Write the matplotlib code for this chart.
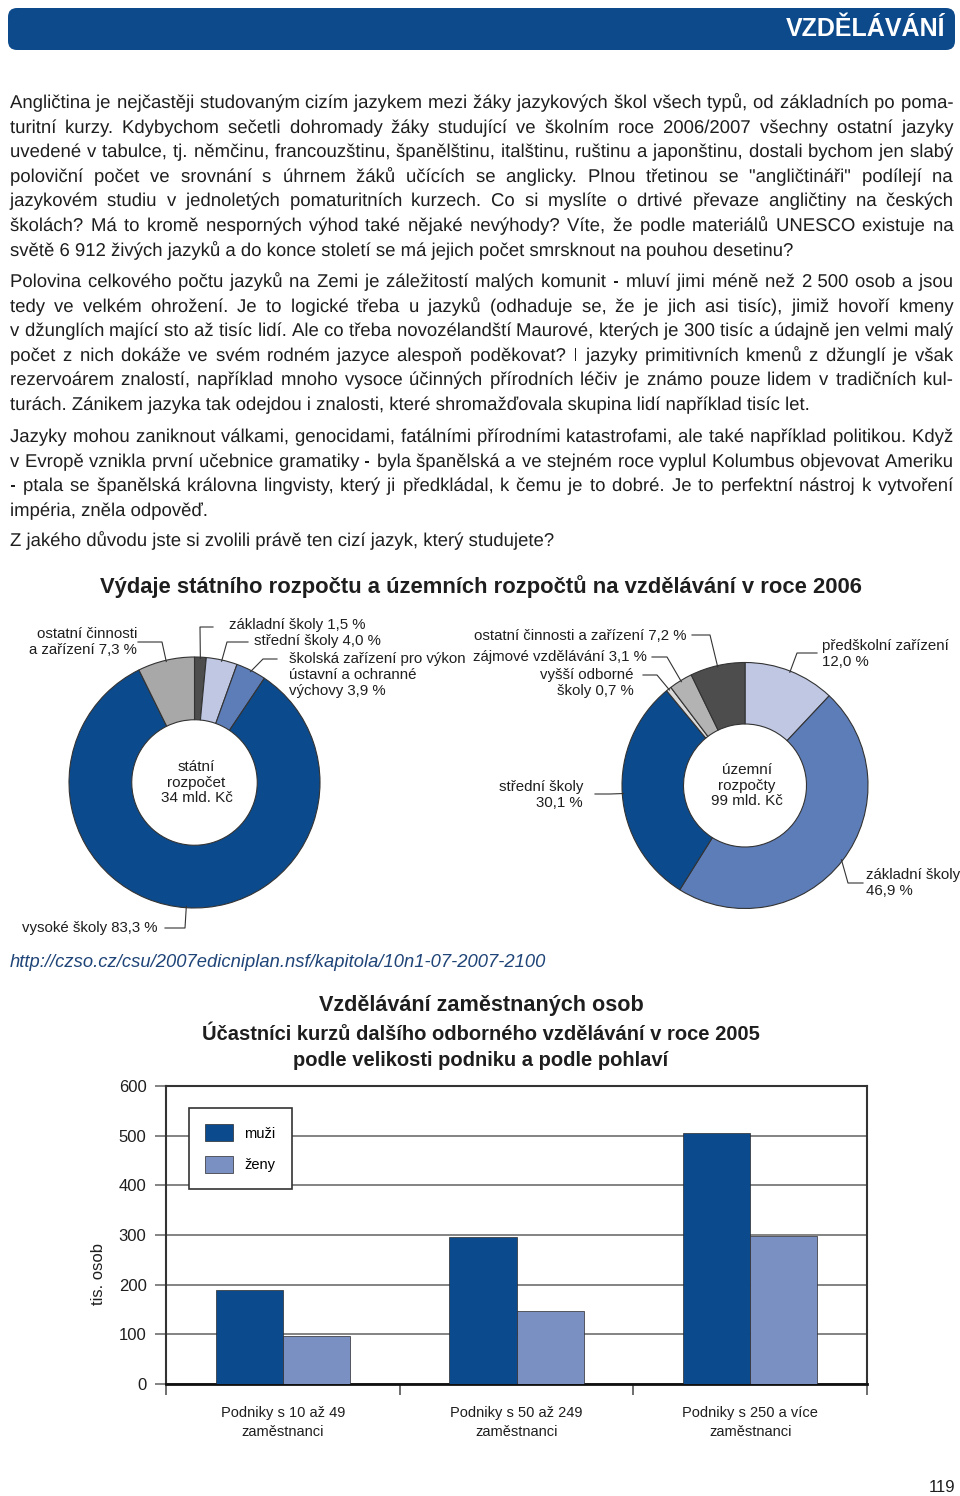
import numpy as np
import matplotlib
matplotlib.use('Agg')
import matplotlib.pyplot as plt
import matplotlib.patheffects as pe
from matplotlib.patches import FancyBboxPatch

plt.rcParams['font.family'] = ['Liberation Sans', 'DejaVu Sans']

# ---- data ----
state_labels = ['základní školy 1,5 %', 'střední školy 4,0 %',
                'školská zařízení pro výkon\nústavní a ochranné\nvýchovy 3,9 %',
                'vysoké školy 83,3 %', 'ostatní činnosti\na zařízení 7,3 %']
state_share = [1.5, 4.0, 3.9, 83.3, 7.3]

local_labels = ['předškolní zařízení\n12,0 %', 'základní školy\n46,9 %',
                'střední školy\n30,1 %', 'vyšší odborné\nškoly 0,7 %',
                'zájmové vzdělávání 3,1 %', 'ostatní činnosti a zařízení 7,2 %']
local_share = [12.0, 46.9, 30.1, 0.7, 3.1, 7.2]

firm_sizes = ['Podniky s 10 až 49\nzaměstnanci', 'Podniky s 50 až 249\nzaměstnanci',
              'Podniky s 250 a více\nzaměstnanci']
men = [190, 296, 505]
women = [96, 147, 298]

par1 = ['Angličtina je nejčastěji studovaným cizím jazykem mezi žáky jazykových škol všech typů, od základních po poma-',
        'turitní kurzy. Kdybychom sečetli dohromady žáky studující ve školním roce 2006/2007 všechny ostatní jazyky',
        'uvedené v tabulce, tj. němčinu, francouzštinu, španělštinu, italštinu, ruštinu a japonštinu, dostali bychom jen slabý',
        'poloviční počet ve srovnání s úhrnem žáků učících se anglicky. Plnou třetinou se "angličtináři" podílejí na',
        'jazykovém studiu v jednoletých pomaturitních kurzech. Co si myslíte o drtivé převaze angličtiny na českých',
        'školách? Má to kromě nesporných výhod také nějaké nevýhody? Víte, že podle materiálů UNESCO existuje na',
        'světě 6 912 živých jazyků a do konce století se má jejich počet smrsknout na pouhou desetinu?']
par2 = ['Polovina celkového počtu jazyků na Zemi je záležitostí malých komunit - mluví jimi méně než 2\u00a0500 osob a jsou',
        'tedy ve velkém ohrožení. Je to logické třeba u jazyků (odhaduje se, že je jich asi tisíc), jimiž hovoří kmeny',
        'v džunglích mající sto až tisíc lidí. Ale co třeba novozélandští Maurové, kterých je 300 tisíc a údajně jen velmi malý',
        'počet z nich dokáže ve svém rodném jazyce alespoň poděkovat? I jazyky primitivních kmenů z džunglí je však',
        'rezervoárem znalostí, například mnoho vysoce účinných přírodních léčiv je známo pouze lidem v tradičních kul-',
        'turách. Zánikem jazyka tak odejdou i znalosti, které shromažďovala skupina lidí například tisíc let.']
par3 = ['Jazyky mohou zaniknout válkami, genocidami, fatálními přírodními katastrofami, ale také například politikou. Když',
        'v Evropě vznikla první učebnice gramatiky - byla španělská a ve stejném roce vyplul Kolumbus objevovat Ameriku',
        '- ptala se španělská královna lingvisty, který ji předkládal, k čemu je to dobré. Je to perfektní nástroj k vytvoření',
        'impéria, zněla odpověď.']
par4 = ['Z jakého důvodu jste si zvolili právě ten cizí jazyk, který studujete?']

DARK = '#0b4a8c'
MID = '#5d7db9'
LIGHT = '#bfc7e3'
GRAY = '#a8a8a8'
DGRAY = '#4d4d4d'
TXT = '#1e1e1e'

W, H = 960, 1496
fig = plt.figure(figsize=(W / 100, H / 100), dpi=100)
ax0 = fig.add_axes([0, 0, 1, 1])


def Y(y):
    return H - y


# header bar
ax0.add_patch(FancyBboxPatch((8, Y(50)), 947, 42, boxstyle='round,pad=0,rounding_size=9',
                             fc='#0d4a8b', ec='none'))
ax0.text(945, Y(29), 'VZDĚLÁVÁNÍ', ha='right', va='center', color='white', fontsize=18,
         fontweight='bold', family=['Liberation Sans Narrow', 'DejaVu Sans Condensed', 'Liberation Sans'])

# body text, justified word by word; drawn through a path effect so that every
# word sits on exactly the same baseline
renderer = fig.canvas.get_renderer()
body_kw = dict(fontsize=13.35, color=TXT, va='baseline', ha='left',
               path_effects=[pe.Normal()])
LEFT, RIGHT = 10, 953


def word_w(s):
    t = ax0.text(0, 0, s, **body_kw)
    w = t.get_window_extent(renderer).width
    t.remove()
    return w


def para(lines, y0, step=24.6):
    sp = word_w('a a') - word_w('aa')
    for i, line in enumerate(lines):
        yb = Y(round(y0 + i * step))
        if i == len(lines) - 1:
            ax0.text(LEFT, yb, line, **body_kw)
            continue
        words = line.split(' ')
        ws = [word_w(w) for w in words]
        gap = max((RIGHT - LEFT - sum(ws)) / (len(words) - 1), 0.45 * sp)
        xx = LEFT
        for w, wd in zip(words, ws):
            ax0.text(round(xx), yb, w, **body_kw)
            xx += wd + gap


para(par1, 108)
para(par2, 287)
para(par3, 442)
para(par4, 546)

ax0.text(481, Y(587), 'Výdaje státního rozpočtu a územních rozpočtů na vzdělávání v roce 2006',
         ha='center', va='center', fontsize=15.8, fontweight='bold', color=TXT)


def donut(values, labels, colors, cx, cy, r, layout, center_text):
    wedges, _ = ax0.pie(values, colors=colors, startangle=90, counterclock=False,
                        center=(cx, Y(cy)), radius=r,
                        wedgeprops=dict(width=r * 0.5, edgecolor='#333333', linewidth=0.8))
    for w, lab, (ex, ey, lx, tx, ty, ha) in zip(wedges, labels, layout):
        ang = np.deg2rad((w.theta1 + w.theta2) / 2)
        px, py = cx + 0.99 * r * np.cos(ang), Y(cy) + 0.99 * r * np.sin(ang)
        ax0.plot([px, ex, lx], [py, Y(ey), Y(ey)], color='#333333', lw=0.8)
        ax0.text(tx, Y(ty), lab, ha=ha, va='center', fontsize=10.8, color=TXT, linespacing=1.15)
    ax0.text(cx + 2, Y(cy), center_text, ha='center', va='center', fontsize=11, color=TXT,
             linespacing=1.15)


donut(state_share, state_labels, [DGRAY, LIGHT, MID, DARK, GRAY], 194.5, 782.5, 125.5,
      [(200, 627, 213, 229, 625, 'left'),
       (227, 642, 248, 254, 641, 'left'),
       (263, 659, 277, 289, 675, 'left'),
       (185, 928, 165, 158, 928, 'right'),
       (162, 642, 138, 137, 642, 'right')],
      'státní\nrozpočet\n34 mld. Kč')

donut(local_share, local_labels, [LIGHT, MID, DARK, '#dadada', '#b3b3b3', DGRAY], 745, 785.5, 123,
      [(797, 653, 817, 822, 654, 'left'),
       (848, 883, 863, 866, 883, 'left'),
       (610, 794, 595, 583, 795, 'right'),
       (657, 675, 643, 634, 683, 'right'),
       (667, 657, 652, 647, 657, 'right'),
       (710, 635, 692, 686, 636, 'right')],
      'územní\nrozpočty\n99 mld. Kč')

ax0.text(10, Y(962), 'http://czso.cz/csu/2007edicniplan.nsf/kapitola/10n1-07-2007-2100',
         ha='left', va='center', fontsize=13.2, style='italic', color='#1f4478')

ax0.text(481, Y(1005), 'Vzdělávání zaměstnaných osob', ha='center', va='center',
         fontsize=15.6, fontweight='bold', color=TXT)
ax0.text(481, Y(1034), 'Účastníci kurzů dalšího odborného vzdělávání v roce 2005',
         ha='center', va='center', fontsize=14.5, fontweight='bold', color=TXT)
ax0.text(481, Y(1060), 'podle velikosti podniku a podle pohlaví',
         ha='center', va='center', fontsize=14.5, fontweight='bold', color=TXT)

ax0.text(955, Y(1487), '119', ha='right', va='center', fontsize=12, color=TXT)

ax0.set_xlim(0, W)
ax0.set_ylim(0, H)
ax0.axis('off')

# bar chart
axb = fig.add_axes([166 / W, (H - 1384) / H, 701 / W, 298 / H])
x = np.arange(len(firm_sizes)) + 0.5
bw = 0.287
axb.bar(x - bw / 2, men, bw, color=DARK, edgecolor='#2a2a2a', linewidth=0.5, label='muži', zorder=3)
axb.bar(x + bw / 2, women, bw, color='#7a8fc2', edgecolor='#2a2a2a', linewidth=0.5, label='ženy', zorder=3)
axb.set_xlim(0, 3)
axb.set_ylim(0, 600)
axb.set_yticks(range(0, 601, 100))
axb.yaxis.grid(True, color='#7a7a7a', lw=1.3)
axb.set_axisbelow(True)
axb.set_xticks([0, 1, 2, 3])
axb.set_xticklabels([])
axb.set_xticks(x, minor=True)
axb.set_xticklabels(firm_sizes, minor=True, fontsize=10.5, color=TXT, linespacing=1.5)
axb.tick_params(axis='x', which='minor', length=0, pad=15.5)
axb.tick_params(axis='x', which='major', length=8, width=1.2, color='#555555')
axb.tick_params(axis='y', length=8, width=1.3, color='#7a7a7a', pad=6, labelsize=12, labelcolor=TXT)
for s in axb.spines.values():
    s.set_color('#333333')
    s.set_linewidth(1.5)
axb.spines['bottom'].set_color('#111111')
axb.spines['bottom'].set_linewidth(2)
axb.set_ylabel('tis. osob', fontsize=12, color=TXT)
axb.yaxis.set_label_coords(-0.086, 0.369)
leg = axb.legend(loc='upper left', bbox_to_anchor=(0.0328, 0.926), fancybox=False,
                 edgecolor='#333333', framealpha=1, borderpad=1.1, handlelength=1.9,
                 handleheight=1.45, handletextpad=0.8, labelspacing=1.0, fontsize=10.5,
                 borderaxespad=0)
leg.get_frame().set_linewidth(1.2)

fig.savefig('out.png', dpi=100)
